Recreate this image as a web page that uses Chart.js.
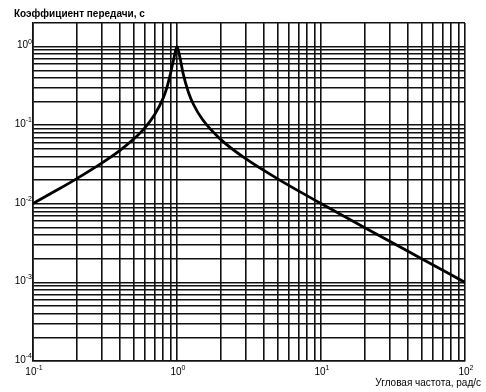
<!DOCTYPE html>
<html>
<head>
<meta charset="utf-8">
<script src="https://cdn.jsdelivr.net/npm/chart.js@4.4.1/dist/chart.umd.min.js"></script>
<style>
  html, body { margin: 0; padding: 0; background: #fff; }
  #wrap { width: 486px; height: 392px; }
</style>
</head>
<body>
<div id="wrap"><canvas id="myChart" width="486" height="392"></canvas></div>
<script>
// angular frequency, rad/s
var freq = [0.1, 0.15, 0.2, 0.3, 0.4, 0.5, 0.6, 0.7, 0.8, 0.85, 0.9, 0.95, 1.0,
            1.05, 1.1, 1.2, 1.3, 1.5, 2, 3, 5, 10, 20, 50, 100];
// transfer coefficient
var gain = [0.0101, 0.0153, 0.0208, 0.033, 0.0476, 0.0667, 0.0935, 0.137, 0.22, 0.3, 0.45, 0.7, 1.0,
            0.716, 0.464, 0.263, 0.185, 0.119, 0.0666, 0.0375, 0.0208, 0.0101, 0.005, 0.002, 0.001];

var xTicks = [0.1, 0.2, 0.3, 0.4, 0.5, 0.6, 0.7, 0.8, 0.9,
              1, 2, 3, 4, 5, 6, 7, 8, 9,
              10, 20, 30, 40, 50, 60, 70, 80, 90, 100];
var yTicks = [0.0001, 0.0002, 0.0003, 0.0004, 0.0005, 0.0006, 0.0007, 0.0008, 0.0009,
              0.001, 0.002, 0.003, 0.004, 0.005, 0.006, 0.007, 0.008, 0.009,
              0.01, 0.02, 0.03, 0.04, 0.05, 0.06, 0.07, 0.08, 0.09,
              0.1, 0.2, 0.3, 0.4, 0.5, 0.6, 0.7, 0.8, 0.9,
              1, 2];
// decade labels: value and exponent text
var xDecades = [0.1, 1, 10, 100];
var xExps = ["-1", "0", "1", "2"];
var yDecades = [0.0001, 0.001, 0.01, 0.1, 1];
var yExps = ["-4", "-3", "-2", "-1", "0"];

var yTitle = "Коэффициент передачи, с";
var xTitle = "Угловая частота, рад/с";

var points = freq.map(function (f, i) { return { x: f, y: gain[i] }; });

var FONT = "'Liberation Sans', Arial, sans-serif";

function powLabel(c, exp, x, y, align) {
  c.font = "10px " + FONT;
  var wb = c.measureText("10").width;
  c.font = "7px " + FONT;
  var we = c.measureText(exp).width;
  var left = align === "right" ? x - wb - we : x - (wb + we) / 2;
  c.textAlign = "left";
  c.textBaseline = "middle";
  c.font = "10px " + FONT;
  c.fillText("10", left, y);
  c.font = "7px " + FONT;
  c.fillText(exp, left + wb, y - 4);
}

var labels = {
  id: "labels",
  afterDraw: function (chart) {
    var c = chart.ctx;
    var xs = chart.scales.x, ys = chart.scales.y;
    c.save();
    c.fillStyle = "#000";
    xDecades.forEach(function (v, i) {
      powLabel(c, xExps[i], xs.getPixelForValue(v) + 1, 372, "center");
    });
    yDecades.forEach(function (v, i) {
      powLabel(c, yExps[i], 32, ys.getPixelForValue(v) - 1, "right");
    });
    c.font = "bold 10px " + FONT;
    c.textBaseline = "middle";
    c.textAlign = "left";
    c.fillText(yTitle, 14, 14);
    c.font = "10px " + FONT;
    c.textAlign = "right";
    c.fillText(xTitle, 481, 383);
    c.restore();
  }
};

var gridStyle = { color: "#111", lineWidth: 1.6, drawTicks: false, tickLength: 0 };

var ctx = document.getElementById("myChart");
var myChart = new Chart(ctx, {
  type: "scatter",
  data: {
    datasets: [{
      data: points,
      showLine: true,
      borderColor: "#000",
      borderWidth: 2.8,
      pointRadius: 0,
      cubicInterpolationMode: "monotone",
      fill: false
    }]
  },
  options: {
    responsive: false,
    animation: false,
    layout: { padding: { top: 23, right: 21, bottom: 0, left: 0 } },
    plugins: { legend: { display: false }, tooltip: { enabled: false } },
    scales: {
      x: {
        type: "logarithmic",
        min: 0.1, max: 100,
        afterBuildTicks: function (s) { s.ticks = xTicks.map(function (v) { return { value: v }; }); },
        afterFit: function (s) { s.height = 31; },
        grid: gridStyle,
        border: { display: true, color: "#111", width: 1.6 },
        ticks: { autoSkip: false, maxRotation: 0, callback: function () { return ""; } }
      },
      y: {
        type: "logarithmic",
        min: 0.0001, max: 2,
        afterBuildTicks: function (s) { s.ticks = yTicks.map(function (v) { return { value: v }; }); },
        afterFit: function (s) { s.width = 33; },
        grid: gridStyle,
        border: { display: true, color: "#111", width: 1.6 },
        ticks: { autoSkip: false, callback: function () { return ""; } }
      }
    }
  },
  plugins: [labels]
});
</script>
</body>
</html>
